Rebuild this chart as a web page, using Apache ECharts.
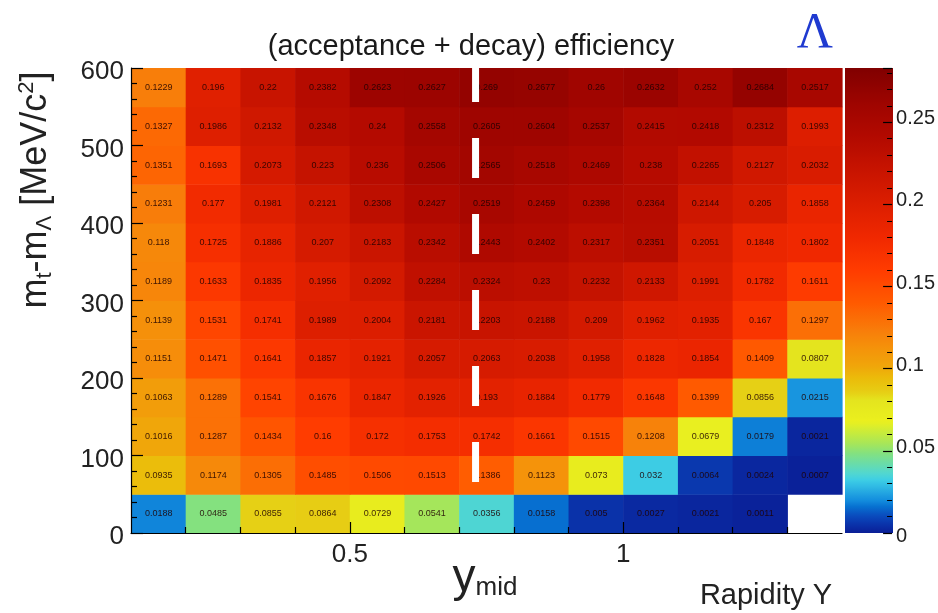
<!DOCTYPE html>
<html>
<head>
<meta charset="utf-8">
<script src="https://cdn.jsdelivr.net/npm/echarts@6/dist/echarts.min.js"></script>
<style>
  html, body { margin: 0; padding: 0; background: #ffffff; }
  #chart { width: 938px; height: 613px; }
</style>
</head>
<body>
<div id="chart"></div>
<script>
// Rapidity bins (width 0.1) and m_t - m_Lambda bins (width 50 MeV/c^2)
const rapidityCenters = [0.15, 0.25, 0.35, 0.45, 0.55, 0.65, 0.75, 0.85, 0.95, 1.05, 1.15, 1.25, 1.35];
const mtCenters = [25, 75, 125, 175, 225, 275, 325, 375, 425, 475, 525, 575];

// (acceptance + decay) efficiency per m_t bin, from low to high rapidity
const eff_0_50    = [0.0188, 0.0485, 0.0855, 0.0864, 0.0729, 0.0541, 0.0356, 0.0158, 0.005, 0.0027, 0.0021, 0.0011, null];
const eff_50_100  = [0.0935, 0.1174, 0.1305, 0.1485, 0.1506, 0.1513, 0.1386, 0.1123, 0.073, 0.032, 0.0064, 0.0024, 0.0007];
const eff_100_150 = [0.1016, 0.1287, 0.1434, 0.16, 0.172, 0.1753, 0.1742, 0.1661, 0.1515, 0.1208, 0.0679, 0.0179, 0.0021];
const eff_150_200 = [0.1063, 0.1289, 0.1541, 0.1676, 0.1847, 0.1926, 0.193, 0.1884, 0.1779, 0.1648, 0.1399, 0.0856, 0.0215];
const eff_200_250 = [0.1151, 0.1471, 0.1641, 0.1857, 0.1921, 0.2057, 0.2063, 0.2038, 0.1958, 0.1828, 0.1854, 0.1409, 0.0807];
const eff_250_300 = [0.1139, 0.1531, 0.1741, 0.1989, 0.2004, 0.2181, 0.2203, 0.2188, 0.209, 0.1962, 0.1935, 0.167, 0.1297];
const eff_300_350 = [0.1189, 0.1633, 0.1835, 0.1956, 0.2092, 0.2284, 0.2324, 0.23, 0.2232, 0.2133, 0.1991, 0.1782, 0.1611];
const eff_350_400 = [0.118, 0.1725, 0.1886, 0.207, 0.2183, 0.2342, 0.2443, 0.2402, 0.2317, 0.2351, 0.2051, 0.1848, 0.1802];
const eff_400_450 = [0.1231, 0.177, 0.1981, 0.2121, 0.2308, 0.2427, 0.2519, 0.2459, 0.2398, 0.2364, 0.2144, 0.205, 0.1858];
const eff_450_500 = [0.1351, 0.1693, 0.2073, 0.223, 0.236, 0.2506, 0.2565, 0.2518, 0.2469, 0.238, 0.2265, 0.2127, 0.2032];
const eff_500_550 = [0.1327, 0.1986, 0.2132, 0.2348, 0.24, 0.2558, 0.2605, 0.2604, 0.2537, 0.2415, 0.2418, 0.2312, 0.1993];
const eff_550_600 = [0.1229, 0.196, 0.22, 0.2382, 0.2623, 0.2627, 0.269, 0.2677, 0.26, 0.2632, 0.252, 0.2684, 0.2517];

const effRows = [eff_0_50, eff_50_100, eff_100_150, eff_150_200, eff_200_250, eff_250_300,
                 eff_300_350, eff_350_400, eff_400_450, eff_450_500, eff_500_550, eff_550_600];

// axis labels
const xTickLabels = [0.5, 1];
const zTickLabels = ['0', '0.05', '0.1', '0.15', '0.2', '0.25'];

const zMax = 0.283;     // top of the colour scale
const yMid = 0.73;      // mid-rapidity marker
const yMidRange = [65, 600];

// colour scale stops: [fraction of zMax, colour]
const paletteStops = [
  [0.000, [10, 30, 150]],
  [0.020, [10, 52, 172]],
  [0.040, [10, 80, 192]],
  [0.056, [6, 112, 208]],
  [0.071, [20, 142, 222]],
  [0.113, [60, 205, 230]],
  [0.127, [80, 215, 210]],
  [0.170, [130, 225, 130]],
  [0.191, [165, 230, 90]],
  [0.240, [235, 240, 30]],
  [0.286, [228, 228, 30]],
  [0.304, [230, 205, 20]],
  [0.332, [235, 188, 10]],
  [0.360, [240, 165, 10]],
  [0.400, [245, 145, 10]],
  [0.435, [248, 125, 10]],
  [0.495, [255, 90, 0]],
  [0.565, [255, 60, 0]],
  [0.636, [240, 40, 0]],
  [0.707, [220, 30, 0]],
  [0.777, [200, 20, 0]],
  [0.848, [180, 10, 0]],
  [0.919, [160, 5, 0]],
  [1.000, [128, 0, 0]]
];

function paletteAt(f) {
  for (let i = 1; i < paletteStops.length; i++) {
    const [f1, c1] = paletteStops[i];
    const [f0, c0] = paletteStops[i - 1];
    if (f <= f1) {
      const t = (f - f0) / (f1 - f0);
      const c = c0.map((v, k) => Math.round(v + (c1[k] - v) * t));
      return 'rgb(' + c.join(',') + ')';
    }
  }
  const c = paletteStops[paletteStops.length - 1][1];
  return 'rgb(' + c.join(',') + ')';
}

const PALETTE_STEPS = 141;
const paletteColors = [];
for (let i = 0; i < PALETTE_STEPS; i++) paletteColors.push(paletteAt(i / (PALETTE_STEPS - 1)));

// cells
const cells = [];
effRows.forEach((row, iy) => {
  row.forEach((v, ix) => {
    if (v !== null) cells.push([rapidityCenters[ix], mtCenters[iy], v]);
  });
});

const xBinHalf = 0.05, yBinHalf = 25;

// layout
const plot = { left: 131, top: 68, width: 711, height: 465 };
const zbar = { left: 845, top: 68, width: 48, height: 465 };

const FONT = '"Liberation Sans", Arial, Helvetica, sans-serif';

const chart = echarts.init(document.getElementById('chart'), null, { renderer: 'canvas' });

const minorX = [];
for (let i = 2; i <= 13; i++) { if (i !== 5 && i !== 10) minorX.push(+(i / 10).toFixed(1)); }

const tickStyle = { color: '#000', width: 1.2 };

const option = {
  backgroundColor: '#ffffff',
  animation: false,
  grid: [
    { left: plot.left, top: plot.top, width: plot.width, height: plot.height, containLabel: false },
    { left: zbar.left, top: zbar.top, width: zbar.width, height: zbar.height, containLabel: false }
  ],
  xAxis: [
    {
      gridIndex: 0, type: 'value', min: 0.1, max: 1.4, position: 'bottom', z: 10,
      axisLine: { show: true, onZero: false, lineStyle: tickStyle },
      axisTick: { show: true, inside: true, length: 11, customValues: xTickLabels, lineStyle: tickStyle },
      axisLabel: { show: true, customValues: xTickLabels, formatter: v => String(v), fontFamily: FONT, fontSize: 26, color: '#222', margin: 9 },
      splitLine: { show: false }
    },
    {
      gridIndex: 0, type: 'value', min: 0.1, max: 1.4, position: 'bottom', z: 10,
      axisLine: { show: false, onZero: false },
      axisTick: { show: true, inside: true, length: 6, customValues: minorX, lineStyle: tickStyle },
      axisLabel: { show: false },
      splitLine: { show: false }
    },
    { gridIndex: 1, type: 'value', min: 0, max: 1, show: false, axisLine: { onZero: false } }
  ],
  yAxis: [
    {
      gridIndex: 0, type: 'value', min: 0, max: 600, interval: 100, z: 10,
      axisLine: { show: true, onZero: false, lineStyle: tickStyle },
      axisTick: { show: true, inside: true, length: 12, lineStyle: tickStyle },
      minorTick: { show: true, splitNumber: 5, length: 6, lineStyle: tickStyle },
      axisLabel: {
        margin: 7,
        formatter: v => '{a|' + v + '}',
        rich: { a: { fontFamily: FONT, fontSize: 26, color: '#222', padding: [8, 0, 0, 0] } }
      },
      splitLine: { show: false }
    },
    {
      gridIndex: 1, type: 'value', min: 0, max: zMax, interval: 0.05, position: 'right', z: 10,
      axisLine: { show: false, onZero: false },
      axisTick: { show: true, inside: true, length: 9, lineStyle: tickStyle },
      minorTick: { show: true, splitNumber: 5, length: 5, lineStyle: { color: '#000', width: 1 } },
      axisLabel: {
        margin: 4,
        formatter: v => {
          const i = Math.round(v / 0.05);
          return (i === 0 ? '{b|' : '{a|') + (zTickLabels[i] || '') + '}';
        },
        rich: {
          a: { fontFamily: FONT, fontSize: 20, color: '#222', padding: [0, 0, 7, 0] },
          b: { fontFamily: FONT, fontSize: 20, color: '#222', padding: [6, 0, 0, 0] }
        }
      },
      splitLine: { show: false }
    }
  ],
  visualMap: {
    type: 'continuous', show: false, min: 0, max: zMax, dimension: 2, seriesIndex: 0,
    inRange: { color: paletteColors }
  },
  series: [
    {
      type: 'custom',
      xAxisIndex: 0, yAxisIndex: 0,
      data: cells,
      encode: { x: 0, y: 1 },
      renderItem: function (params, api) {
        const x = api.value(0), y = api.value(1), v = api.value(2);
        const p0 = api.coord([x - xBinHalf, y + yBinHalf]);
        const p1 = api.coord([x + xBinHalf, y - yBinHalf]);
        return {
          type: 'rect',
          shape: { x: p0[0], y: p0[1], width: p1[0] - p0[0] + 0.6, height: p1[1] - p0[1] + 0.6 },
          style: { fill: api.visual('color') },
          textContent: {
            style: { text: String(v), fontFamily: FONT, fontSize: 9, fill: 'rgba(30,0,0,0.85)' }
          },
          textConfig: { position: 'inside' }
        };
      },
      z: 1
    },
    {
      type: 'line',
      xAxisIndex: 0, yAxisIndex: 0,
      data: [[yMid, yMidRange[1]], [yMid, yMidRange[0]]],
      symbol: 'none',
      lineStyle: { color: '#ffffff', width: 7, type: [40, 36], dashOffset: 6, cap: 'butt' },
      silent: true,
      z: 5
    }
  ],
  graphic: [
    {
      type: 'rect', z: -10,
      shape: { x: zbar.left, y: zbar.top, width: zbar.width, height: zbar.height },
      style: {
        fill: new echarts.graphic.LinearGradient(0, 1, 0, 0,
          paletteColors.map((c, i) => ({ offset: i / (paletteColors.length - 1), color: c })))
      }
    },
    {
      type: 'text', z: 10,
      x: 471, y: 47,
      style: { text: '(acceptance + decay) efficiency', fontFamily: FONT, fontSize: 29, fill: '#1a1a1a',
               align: 'center', verticalAlign: 'middle' }
    },
    {
      type: 'text', z: 10,
      x: 815, y: 34,
      style: { text: 'Λ', fontFamily: '"Liberation Serif", "Times New Roman", serif', fontSize: 50, fill: '#1f3ad0',
               align: 'center', verticalAlign: 'middle' }
    },
    {
      type: 'text', z: 10,
      x: 485, y: 576,
      style: {
        text: '{y|y}{s|mid}',
        align: 'center', verticalAlign: 'middle',
        rich: {
          y: { fontFamily: FONT, fontSize: 46, fill: '#222', lineHeight: 50, verticalAlign: 'bottom' },
          s: { fontFamily: FONT, fontSize: 26, fill: '#222', lineHeight: 22, verticalAlign: 'bottom' }
        }
      }
    },
    {
      type: 'text', z: 10,
      x: 766, y: 596,
      style: { text: 'Rapidity Y', fontFamily: FONT, fontSize: 29, fill: '#222', align: 'center', verticalAlign: 'middle' }
    },
    {
      type: 'text', z: 10,
      x: 36, y: 190,
      rotation: Math.PI / 2,
      style: {
        text: '{m|m}{s|t}{m|-m}{s|Λ}{m| [MeV/c}{p|2}{m|]}',
        align: 'center', verticalAlign: 'middle',
        rich: {
          m: { fontFamily: FONT, fontSize: 36, fill: '#222', lineHeight: 40, verticalAlign: 'middle' },
          s: { fontFamily: FONT, fontSize: 22, fill: '#222', lineHeight: 16, verticalAlign: 'bottom' },
          p: { fontFamily: FONT, fontSize: 22, fill: '#222', lineHeight: 16, verticalAlign: 'top' }
        }
      }
    }
  ]
};

chart.setOption(option);
</script>
</body>
</html>
